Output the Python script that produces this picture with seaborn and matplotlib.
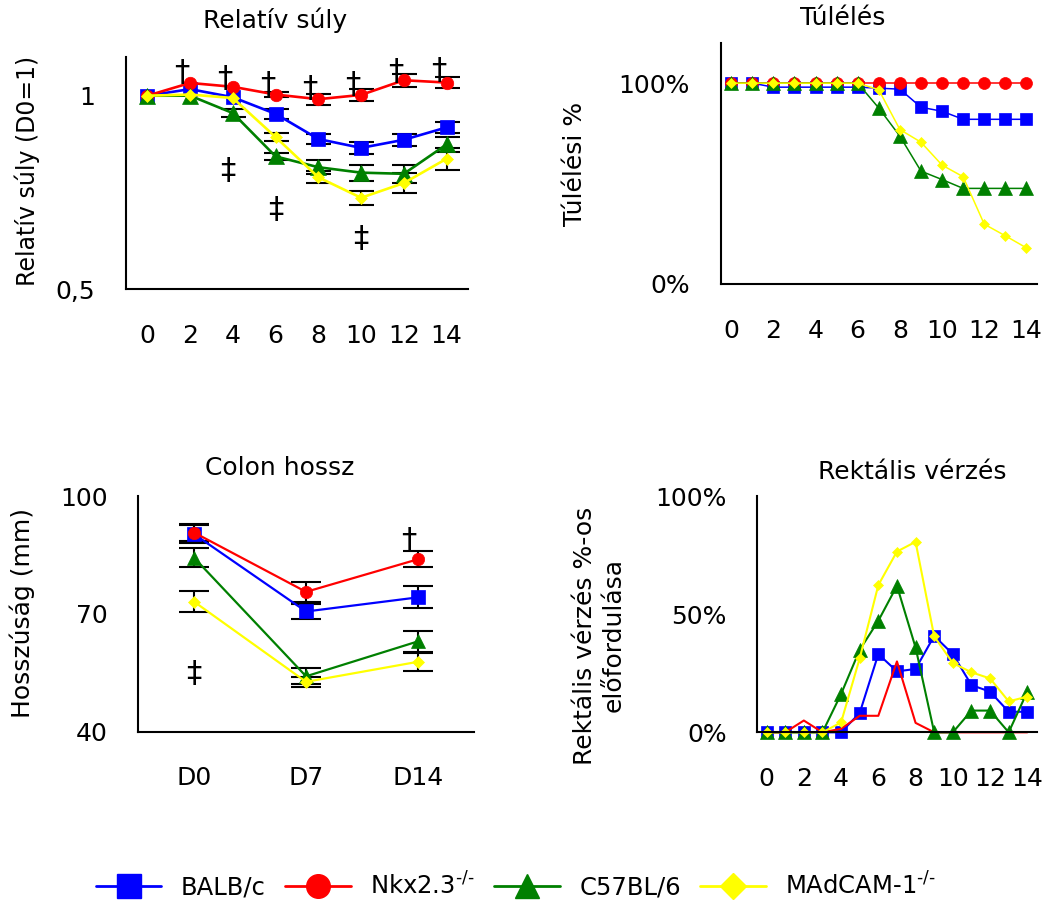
import numpy as np
import pandas as pd
import seaborn as sns
import matplotlib.pyplot as plt
from matplotlib.lines import Line2D
from matplotlib.ticker import PercentFormatter

sns.set_theme(style="white")
plt.rcParams['font.family'] = ['DejaVu Sans']
plt.rcParams['mathtext.fontset'] = 'dejavusans'
for k in ['text.color', 'axes.labelcolor', 'xtick.color', 'ytick.color']:
    plt.rcParams[k] = 'black'

# strains (legend order = drawing order)
strains = ['BALB/c', r'Nkx2.3$^{\text{-/-}}$', 'C57BL/6', r'MAdCAM-1$^{\text{-/-}}$']
colors = ['#0000FF', '#FF0000', '#008000', '#FFFF00']
markers = ['s', 'o', '^', 'D']

# Relatív súly (mean +- sem)
weight_days = [0, 2, 4, 6, 8, 10, 12, 14]
weight_balb = [1.0, 1.017, 0.996, 0.953, 0.888, 0.865, 0.886, 0.918]
weight_nkx = [1.0, 1.033, 1.023, 1.003, 0.991, 1.002, 1.040, 1.034]
weight_c57 = [1.0, 1.0, 0.955, 0.843, 0.815, 0.801, 0.798, 0.874]
weight_madcam = [1.0, 1.003, 0.994, 0.893, 0.789, 0.736, 0.774, 0.837]
weight_balb_err = [0, 0, 0, 0.013, 0.014, 0.015, 0.015, 0.015]
weight_nkx_err = [0, 0, 0, 0.006, 0.014, 0.015, 0.017, 0.015]
weight_c57_err = [0, 0, 0.01, 0.01, 0.018, 0.021, 0.024, 0.02]
weight_madcam_err = [0, 0, 0, 0.01, 0.016, 0.018, 0.025, 0.028]
weight_dagger_x = [2, 4, 6, 8, 10, 12, 14]
weight_dagger_y = [1.060, 1.044, 1.028, 1.018, 1.028, 1.063, 1.064]
weight_ddagger_x = [3.76, 6.0, 10.0]
weight_ddagger_y = [0.807, 0.706, 0.631]

# Túlélés
surv_days = list(range(15))
surv_balb = [1, 1, 0.98, 0.98, 0.98, 0.98, 0.98, 0.975, 0.97, 0.88, 0.86, 0.82, 0.82, 0.82, 0.82]
surv_nkx = [1.0] * 15
surv_c57 = [1, 1, 1, 1, 1, 1, 1, 0.876, 0.736, 0.562, 0.52, 0.476, 0.476, 0.476, 0.476]
surv_madcam = [1, 1, 1, 1, 1, 1, 1, 0.967, 0.769, 0.706, 0.592, 0.534, 0.298, 0.24, 0.18]

# Colon hossz
colon_labels = ['D0', 'D7', 'D14']
colon_balb = [90.3, 70.6, 74.2]
colon_nkx = [90.7, 75.6, 83.9]
colon_c57 = [84.3, 54.1, 63.0]
colon_madcam = [73.1, 52.7, 57.8]
colon_balb_err = [2.2, 1.8, 2.8]
colon_nkx_err = [2.2, 2.5, 2.0]
colon_c57_err = [2.5, 2.0, 2.7]
colon_madcam_err = [2.7, 1.2, 2.3]

# Rektális vérzés
bleed_days = list(range(15))
bleed_balb = [0, 0, 0, 0, 0, 0.082, 0.331, 0.258, 0.268, 0.408, 0.331, 0.2, 0.172, 0.087, 0.087]
bleed_nkx = [0, 0, 0.05, 0, 0.015, 0.07, 0.07, 0.3, 0.04, 0, 0, 0, 0, 0, 0]
bleed_c57 = [0, 0, 0, 0, 0.162, 0.349, 0.472, 0.62, 0.359, 0, 0, 0.092, 0.092, 0, 0.172]
bleed_madcam = [0, 0, 0, 0, 0.042, 0.313, 0.623, 0.765, 0.806, 0.406, 0.293, 0.254, 0.228, 0.131, 0.151]

TICK_FS = 18
LABEL_FS = 18
MARK_FS = 22


def style_axes(ax):
    for s in ['top', 'right']:
        ax.spines[s].set_visible(False)
    for s in ['left', 'bottom']:
        ax.spines[s].set_color('black')
        ax.spines[s].set_linewidth(1.5)
    ax.tick_params(axis='both', length=0, labelsize=TICK_FS, colors='black')
    ax.tick_params(axis='x', pad=25)
    ax.tick_params(axis='y', pad=22)
    ax.grid(False)


def draw_series(ax, x, series, sizes, lw, show=(True, True, True, True)):
    for i, y in enumerate(series):
        sns.lineplot(x=x, y=y, ax=ax, color=colors[i], linewidth=lw,
                     marker=markers[i] if show[i] else None,
                     markersize=sizes[i], markeredgecolor=colors[i],
                     markeredgewidth=0.5, errorbar=None, sort=False, zorder=2)
    for l in ax.lines:
        l.set_clip_on(False)


def draw_errors(ax, x, series, errs, capsize):
    for y, e in zip(series, errs):
        keep = [i for i in range(len(e)) if e[i] > 0]
        ax.errorbar([x[i] for i in keep], [y[i] for i in keep],
                    yerr=[e[i] for i in keep], fmt='none', ecolor='black',
                    elinewidth=1.5, capsize=capsize, capthick=1.5, zorder=1.9)


fig = plt.figure(figsize=(10.49, 9.01), dpi=100)

# ---- Relatív súly
ax1 = fig.add_axes([0.1201, 0.6792, 0.326, 0.2575])
w_series = [weight_balb, weight_nkx, weight_c57, weight_madcam]
w_errs = [weight_balb_err, weight_nkx_err, weight_c57_err, weight_madcam_err]
draw_series(ax1, weight_days, w_series, [9.5, 9, 11, 6.5], 1.9)
draw_errors(ax1, weight_days, w_series, w_errs, 9)
for x, y in zip(weight_dagger_x, weight_dagger_y):
    ax1.text(x - 0.38, y, '†', fontsize=MARK_FS, ha='center', va='center')
for x, y in zip(weight_ddagger_x, weight_ddagger_y):
    ax1.text(x, y, '‡', fontsize=MARK_FS, ha='center', va='center')
ax1.set_xlim(-1, 15)
ax1.set_ylim(0.5, 1.1)
ax1.set_xticks(weight_days)
ax1.set_yticks([0.5, 1.0])
ax1.set_yticklabels(['0,5', '1'])
style_axes(ax1)
ax1.set_xlabel('')
ax1.set_ylabel('Relatív súly (D0=1)', fontsize=17, va='center', ha='center')
ax1.yaxis.set_label_coords(-0.29, 0.509)
ax1.text(0.436, 1.159, 'Relatív súly', transform=ax1.transAxes,
         fontsize=LABEL_FS, ha='center', va='center')

# ---- Túlélés
ax2 = fig.add_axes([0.687, 0.6848, 0.3015, 0.2675])
draw_series(ax2, surv_days, [surv_balb, surv_nkx, surv_c57, surv_madcam],
            [8.6, 8.6, 10.5, 4.8], 1.1)
ax2.set_xlim(-0.5, 14.5)
ax2.set_ylim(0, 1.2)
ax2.set_xticks(list(range(0, 15, 2)))
ax2.set_yticks([0, 1])
ax2.yaxis.set_major_formatter(PercentFormatter(xmax=1, decimals=0))
style_axes(ax2)
ax2.set_xlabel('')
ax2.set_ylabel('Túlélési %', fontsize=LABEL_FS, va='center', ha='center')
ax2.yaxis.set_label_coords(-0.461, 0.498)
ax2.text(0.387, 1.104, 'Túlélés', transform=ax2.transAxes,
         fontsize=LABEL_FS, ha='center', va='center')

# ---- Colon hossz
ax3 = fig.add_axes([0.1316, 0.1879, 0.3203, 0.2616])
cx = list(range(len(colon_labels)))
c_series = [colon_balb, colon_nkx, colon_c57, colon_madcam]
c_errs = [colon_balb_err, colon_nkx_err, colon_c57_err, colon_madcam_err]
draw_series(ax3, cx, c_series, [9.6, 8.9, 10.3, 6], 1.6)
draw_errors(ax3, cx, c_series, c_errs, 11)
ax3.text(1.92, 88.6, '†', fontsize=MARK_FS, ha='center', va='center')
ax3.text(0.0, 54.7, '‡', fontsize=MARK_FS, ha='center', va='center')
ax3.set_xlim(-0.5, 2.5)
ax3.set_ylim(40, 100)
ax3.set_xticks(cx)
ax3.set_xticklabels(colon_labels)
ax3.set_yticks([40, 70, 100])
style_axes(ax3)
ax3.set_xlabel('')
ax3.set_ylabel('Hosszúság (mm)', fontsize=LABEL_FS, va='center', ha='center')
ax3.yaxis.set_label_coords(-0.345, 0.504)
ax3.text(0.4226, 1.119, 'Colon hossz', transform=ax3.transAxes,
         fontsize=LABEL_FS, ha='center', va='center')

# ---- Rektális vérzés
ax4 = fig.add_axes([0.7219, 0.1872, 0.2663, 0.2623])
draw_series(ax4, bleed_days, [bleed_balb, bleed_nkx, bleed_c57, bleed_madcam],
            [9.1, 0, 10.5, 5.6], 1.5, show=(True, False, True, True))
ax4.set_xlim(-0.5, 14.5)
ax4.set_ylim(0, 1)
ax4.set_xticks(list(range(0, 15, 2)))
ax4.set_yticks([0, 0.5, 1])
ax4.yaxis.set_major_formatter(PercentFormatter(xmax=1, decimals=0))
style_axes(ax4)
ax4.set_xlabel('')
ax4.set_ylabel('Rektális vérzés %-os\nelőfordulása', fontsize=LABEL_FS,
               va='center', ha='center', linespacing=1.25)
ax4.yaxis.set_label_coords(-0.567, 0.41)
ax4.text(0.553, 1.102, 'Rektális vérzés', transform=ax4.transAxes,
         fontsize=LABEL_FS, ha='center', va='center')

# ---- legend
handles = [Line2D([], [], color=colors[i], marker=markers[i], linewidth=2,
                  markersize=[17, 17, 17, 13][i], markeredgecolor=colors[i])
           for i in range(4)]
fig.legend(handles, strains, loc='center', bbox_to_anchor=(0.492, 0.0172),
           ncol=4, frameon=False, fontsize=17.5, handlelength=2.7,
           handletextpad=0.8, columnspacing=0.8)

fig.savefig('out.png', dpi=100)
